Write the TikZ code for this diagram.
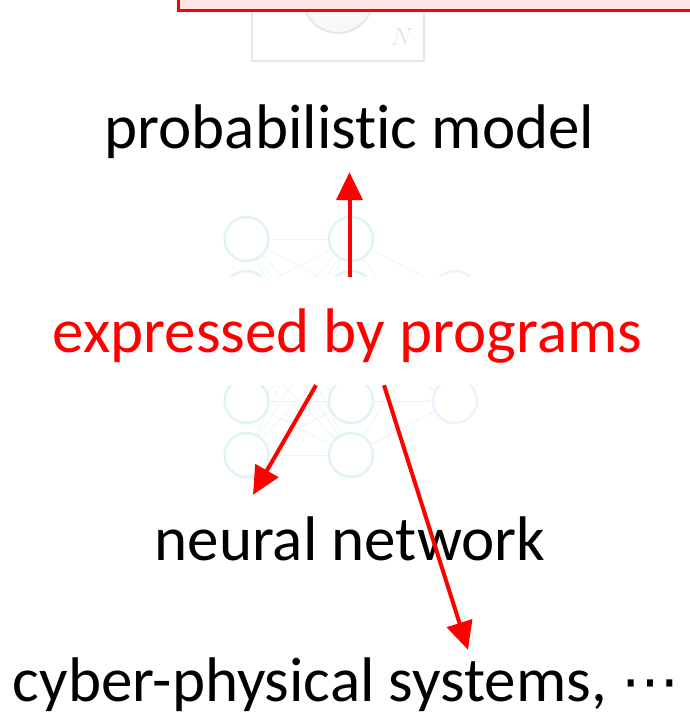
\documentclass[tikz,border=0pt]{standalone}
\usepackage{fontspec}
\setmainfont[RawFeature={-liga;-clig;-calt;-dlig;-hlig}]{Carlito}
\newfontfamily\dotsfont{DejaVu Sans}
\usetikzlibrary{arrows.meta,calc}
\definecolor{boxpink}{HTML}{FDE4E8}
\definecolor{plategray}{HTML}{E6E6E6}
\definecolor{platefill}{HTML}{F8F8F8}
\definecolor{nnteal}{HTML}{E0F5F3}
\definecolor{nnblue}{HTML}{EEF2FC}
\definecolor{nnedge}{HTML}{EAF6F5}
\tikzset{
  nncirc/.style={circle, minimum size=44pt, inner sep=0pt, draw=nnteal, line width=2.5pt},
  nnline/.style={draw=nnedge, line width=0.8pt},
  nnarr/.style={draw=nnblue, line width=0.8pt, -{Stealth[length=5pt,width=4pt]}},
  lbl/.style={inner sep=0pt, anchor=base, font=\fontsize{63}{63}\selectfont},
  redarr/.style={draw=red, line width=4pt, -{Triangle[width=26pt,length=28pt]}}
}
\begin{document}
\begin{tikzpicture}[x=1pt,y=-1pt]
\useasboundingbox (0,0) rectangle (689,713);
% plate diagram (faded)
\draw[plategray, line width=2pt] (252,-20) rectangle (424,61);
\draw[plategray, line width=2pt, fill=platefill] (338,-2) circle[radius=35];
\node[text=plategray!90!black!60, font=\fontsize{28}{28}\selectfont] (plN) at (402,37) {$N$};
% red box
\draw[red, line width=3pt, fill=boxpink] (178,10) rectangle (720,-40);
% neural network (faded)
\foreach \i/\y in {1/239,2/293,3/347,4/401,5/455}{
  \node[nncirc] (a\i) at (246.5,\y) {};
  \node[nncirc] (b\i) at (351,\y) {};
}
\node[nncirc, draw=nnblue] (c1) at (455,293) {};
\node[nncirc, draw=nnblue] (c2) at (455,401) {};
\foreach \i in {1,...,5}{
  \foreach \j in {1,...,5}{
    \draw[nnline] (a\i) -- (b\j);
  }
  \draw[nnarr] (b\i) -- (c1);
  \draw[nnarr] (b\i) -- (c2);
}
% labels
\node[lbl, text height=44pt, text depth=24pt] (pm) at (349.5,148) {probabilistic model};
\node[lbl, text=red, fill=white, text height=75pt, text depth=33pt] (ex) at (347.5,352) {expressed by programs};
\node[lbl, fill=white, text height=65pt, text depth=12pt] (nn) at (350,560) {neural network};
\node[lbl, text height=51pt, text depth=14pt] (cy) at (346,701) {cyber-physical systems, {\dotsfont\fontsize{58}{58}\selectfont ⋯}};
% arrows
\draw[redarr] (ex.north -| pm.south) -- (pm.south);
\draw[redarr] ($(ex.south)+(-31.5,0)$) -- ($(nn.north)+(-97,0)$);
\draw[redarr] ($(ex.south)+(36.5,0)$) -- ($(cy.north)+(122,0)$);
\end{tikzpicture}
\end{document}
